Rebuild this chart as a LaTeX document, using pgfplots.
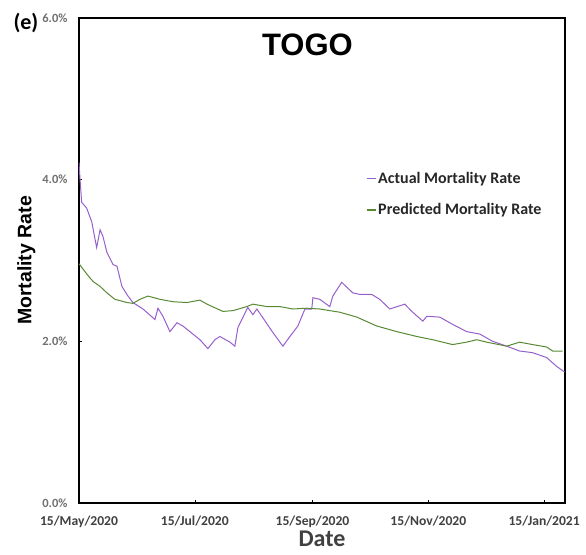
\documentclass[border=0pt]{standalone}
\usepackage{fontspec}
\setmainfont{Carlito}
\newfontfamily\arialfont{Liberation Sans}
\usepackage{pgfplots}
\pgfplotsset{compat=1.18}
\definecolor{actualc}{RGB}{150,95,205}
\definecolor{predc}{RGB}{88,138,52}
\definecolor{ticktext}{RGB}{64,64,64}

\begin{document}
\begin{tikzpicture}
  \begin{axis}[
      name=ax,
      scale only axis,
      width=486pt, height=485pt,
      xmin=0, xmax=256,
      ymin=0, ymax=6,
      xtick={0,61,123,184,245},
      xticklabels={15/May/2020,15/Jul/2020,15/Sep/2020,15/Nov/2020,15/Jan/2021},
      ytick={0,2,4,6},
      yticklabels={0.0\%,2.0\%,4.0\%,6.0\%},
      xtick pos=left, ytick pos=left,
      tick align=inside,
      major tick length=3pt,
      tick style={black, line width=0.6pt},
      axis line style={line width=1.1pt},
      x tick label style={font=\fontsize{13.6}{15}\selectfont\bfseries, text=ticktext, yshift=-9pt},
      y tick label style={font=\fontsize{12.5}{14}\selectfont\bfseries, text=ticktext!75, xshift=-8pt},
      xlabel={Date},
      ylabel={\arialfont\bfseries Mortality Rate},
      xlabel style={font=\fontsize{24}{26}\selectfont\bfseries, text=ticktext, yshift=1pt, inner sep=1pt},
      ylabel style={font=\fontsize{19.5}{22}\selectfont, yshift=0pt},
      legend style={draw=none, fill=none, at={(rel axis cs:0.59,0.687)}, anchor=north west,
        font=\fontsize{16}{18}\selectfont\bfseries, text=black!85, row sep=15pt, inner sep=0pt},
      legend cell align=left,
      legend image code/.code={\draw[#1, line width=1.3pt] (0pt,0pt) -- (9pt,0pt);},
    ]
    % actual mortality rate (percent), x = days since 15 May 2020
    \addplot[color=actualc, line width=1pt] coordinates {
      (0,4.21) (0.5,4.02) (1.4,3.72) (4.0,3.65) (6.7,3.48) (9.3,3.16) (11.1,3.38)
      (12.6,3.30) (14.7,3.10) (17.9,2.95) (20.0,2.93) (22.6,2.68) (25.8,2.56)
      (28.4,2.48) (33.7,2.40) (40.0,2.27) (41.6,2.41) (44.2,2.31) (47.9,2.12)
      (51.6,2.23) (54.7,2.19) (63.7,2.02) (67.9,1.91) (71.6,2.02) (74.2,2.06)
      (79.5,1.99) (82.1,1.94) (83.7,2.17) (88.9,2.42) (91.6,2.33) (93.7,2.40)
      (102.1,2.11) (107.4,1.94) (111.1,2.06) (115.3,2.19) (119.0,2.40) (122.6,2.40)
      (123.2,2.54) (126.8,2.52) (132.1,2.43) (133.7,2.56) (138.4,2.73) (144.2,2.60)
      (147.9,2.58) (154.2,2.58) (158.4,2.52) (163.7,2.40) (171.6,2.46) (175.3,2.37)
      (181.1,2.25) (183.2,2.31) (190.0,2.30) (196.8,2.21) (204.2,2.12) (211.1,2.09)
      (217.9,2.00) (225.3,1.94) (232.1,1.88) (238.9,1.86) (246.3,1.80) (251.6,1.69)
      (255.8,1.62)
    };
    \addlegendentry{Actual Mortality Rate}
    % predicted mortality rate
    \addplot[color=predc, line width=1pt] coordinates {
      (0,2.96) (4.2,2.83) (7.4,2.74) (11.1,2.68) (14.7,2.60) (18.9,2.52) (25.3,2.48)
      (28.4,2.47) (32.1,2.52) (36.3,2.56) (42.6,2.52) (49.5,2.49) (56.8,2.48)
      (63.7,2.51) (67.4,2.46) (75.8,2.37) (81.1,2.38) (88.4,2.43) (91.6,2.46)
      (98.9,2.43) (105.8,2.43) (112.6,2.40) (120,2.41) (126.8,2.40) (137.4,2.36)
      (146.3,2.30) (156.8,2.19) (167.4,2.12) (177.9,2.06) (186.3,2.02) (196.8,1.96)
      (204.2,1.99) (209.5,2.02) (214.7,1.99) (225.3,1.94) (232.1,1.99) (238.9,1.96)
      (246.3,1.93) (249.5,1.88) (254.7,1.88)
    };
    \addlegendentry{Predicted Mortality Rate}
    \node[font=\arialfont\fontsize{31}{34}\selectfont\bfseries] at (rel axis cs:0.47,0.944) {TOGO};
  \end{axis}
  \node[font=\fontsize{22}{24}\selectfont\bfseries, anchor=base west] at (-69pt,473pt) {(e)};
  \pgfresetboundingbox
  \path[use as bounding box] (-79pt,-51pt) rectangle (507pt,503pt);
\end{tikzpicture}
\end{document}
